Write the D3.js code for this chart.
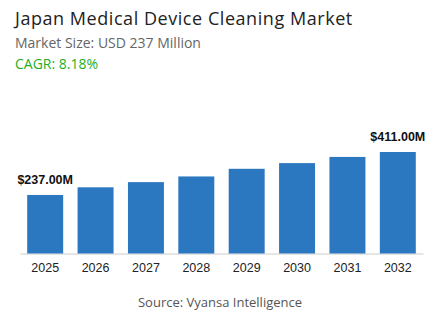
<!DOCTYPE html>
<html lang="en">
<head>
    <meta charset="UTF-8">
    <title>Japan Medical Device Cleaning Market</title>
    <script src="https://d3js.org/d3.v7.min.js"></script>
    <style>
        body { margin: 0; background: #fff; }
        svg { display: block; }
        .head { font-family: "Open Sans", sans-serif; }
        .axis text { font-family: "Liberation Sans", Arial, sans-serif; font-size: 12.5px; fill: #222; }
        .axis path { stroke: #ccc; }
        .value { font-family: "Liberation Sans", Arial, sans-serif; font-weight: bold; font-size: 12.5px; fill: #111; }
    </style>
</head>
<body>
<svg width="443" height="332"></svg>
<script>
    // chart data
    const years = ["2025", "2026", "2027", "2028", "2029", "2030", "2031", "2032"];
    const values = [237, 268, 289, 312, 343, 366, 391, 411];
    const labelled = ["2025", "2032"];

    const title = "Japan Medical Device Cleaning Market";
    const subtitle = "Market Size: USD 237 Million";
    const cagr = "CAGR: 8.18%";
    const source = "Source: Vyansa Intelligence";

    const svg = d3.select("svg");

    // header text
    svg.append("text").attr("class", "head")
        .attr("x", 15).attr("y", 25)
        .attr("font-size", 18).attr("fill", "#222")
        .attr("letter-spacing", 0.55)
        .text(title);
    svg.append("text").attr("class", "head")
        .attr("x", 15).attr("y", 47.5)
        .attr("font-size", 14).attr("fill", "#666")
        .text(subtitle);
    svg.append("text").attr("class", "head")
        .attr("x", 15).attr("y", 69)
        .attr("font-size", 14).attr("fill", "#1fae1f")
        .text(cagr);

    const x = d3.scaleBand()
        .domain(years)
        .range([20, 423])
        .paddingInner(0.286)
        .paddingOuter(0.143);

    const y = d3.scaleLinear()
        .domain([0, 411])
        .range([253.5, 152]);

    svg.append("g")
        .attr("class", "axis")
        .attr("transform", "translate(0,253.5)")
        .call(d3.axisBottom(x).tickSize(0).tickPadding(10))
        .call(g => g.select(".domain").attr("stroke", "#d0d0d0"));

    svg.append("g")
        .selectAll("rect")
        .data(years)
        .enter().append("rect")
        .attr("x", d => x(d))
        .attr("y", (d, i) => y(values[i]))
        .attr("width", x.bandwidth())
        .attr("height", (d, i) => y(0) - y(values[i]))
        .attr("fill", "#2b77c0");

    // value labels on first and last bar
    svg.append("g")
        .selectAll("text")
        .data(years.filter(d => labelled.includes(d)))
        .enter().append("text")
        .attr("class", "value")
        .attr("text-anchor", "middle")
        .attr("x", d => x(d) + x.bandwidth() / 2)
        .attr("y", d => y(values[years.indexOf(d)]) - 11)
        .text(d => "$" + values[years.indexOf(d)].toFixed(2) + "M");

    svg.append("text").attr("class", "head")
        .attr("x", 220).attr("y", 307)
        .attr("text-anchor", "middle")
        .attr("font-size", 13).attr("fill", "#555")
        .text(source);
</script>
</body>
</html>
